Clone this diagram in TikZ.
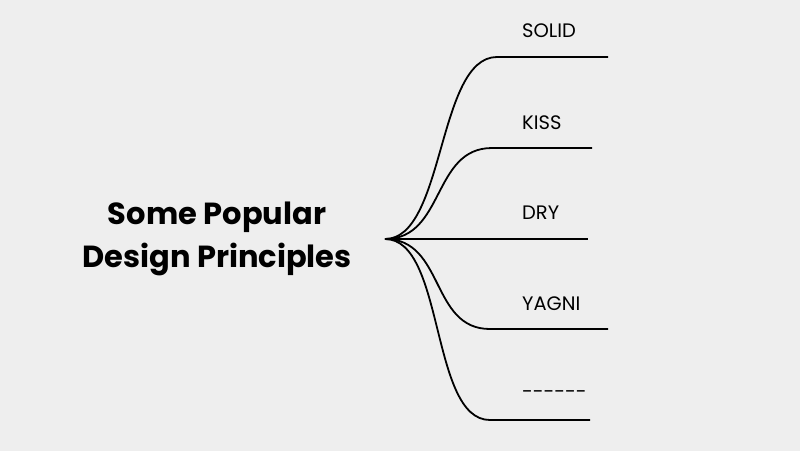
\documentclass[tikz,border=0pt]{standalone}
\usepackage{fontspec}
\setmainfont{Poppins}
\begin{document}
\begin{tikzpicture}[x=1pt,y=-1pt,
  br/.style={line width=1.8pt,black},
  lbl/.style={anchor=west,font=\fontsize{19.5}{22}\selectfont,inner sep=0}]
\fill[fill={rgb,255:red,238;green,238;blue,238}] (0,0) rectangle (800,451);
\node[align=center,font=\fontsize{30.5}{43}\selectfont\bfseries] (t) at (217,239) {Some Popular\\Design Principles};
\coordinate (r) at (385,239);
\coordinate (a) at (497,57); \coordinate (a2) at (608,57);
\coordinate (b) at (492,148); \coordinate (b2) at (592,148);
\coordinate (c2) at (588,239);
\coordinate (d) at (490,329); \coordinate (d2) at (608,329);
\coordinate (e) at (490,420); \coordinate (e2) at (590,420);
\draw[br] (r) .. controls (445,239) and (437,57) .. (a) -- (a2);
\draw[br] (r) .. controls (445,239) and (432,148) .. (b) -- (b2);
\draw[br] (r) -- (c2);
\draw[br] (r) .. controls (445,239) and (430,329) .. (d) -- (d2);
\draw[br] (r) .. controls (445,239) and (430,420) .. (e) -- (e2);
\node[lbl] (l1) at (522,31) {SOLID};
\node[lbl] (l2) at (522,123) {KISS};
\node[lbl] (l3) at (522,213) {DRY};
\node[lbl] (l4) at (522,304) {YAGNI};
\node[lbl] (l5) at (522,395) {-{}-{}-{}-{}-{}-};
\end{tikzpicture}
\end{document}
